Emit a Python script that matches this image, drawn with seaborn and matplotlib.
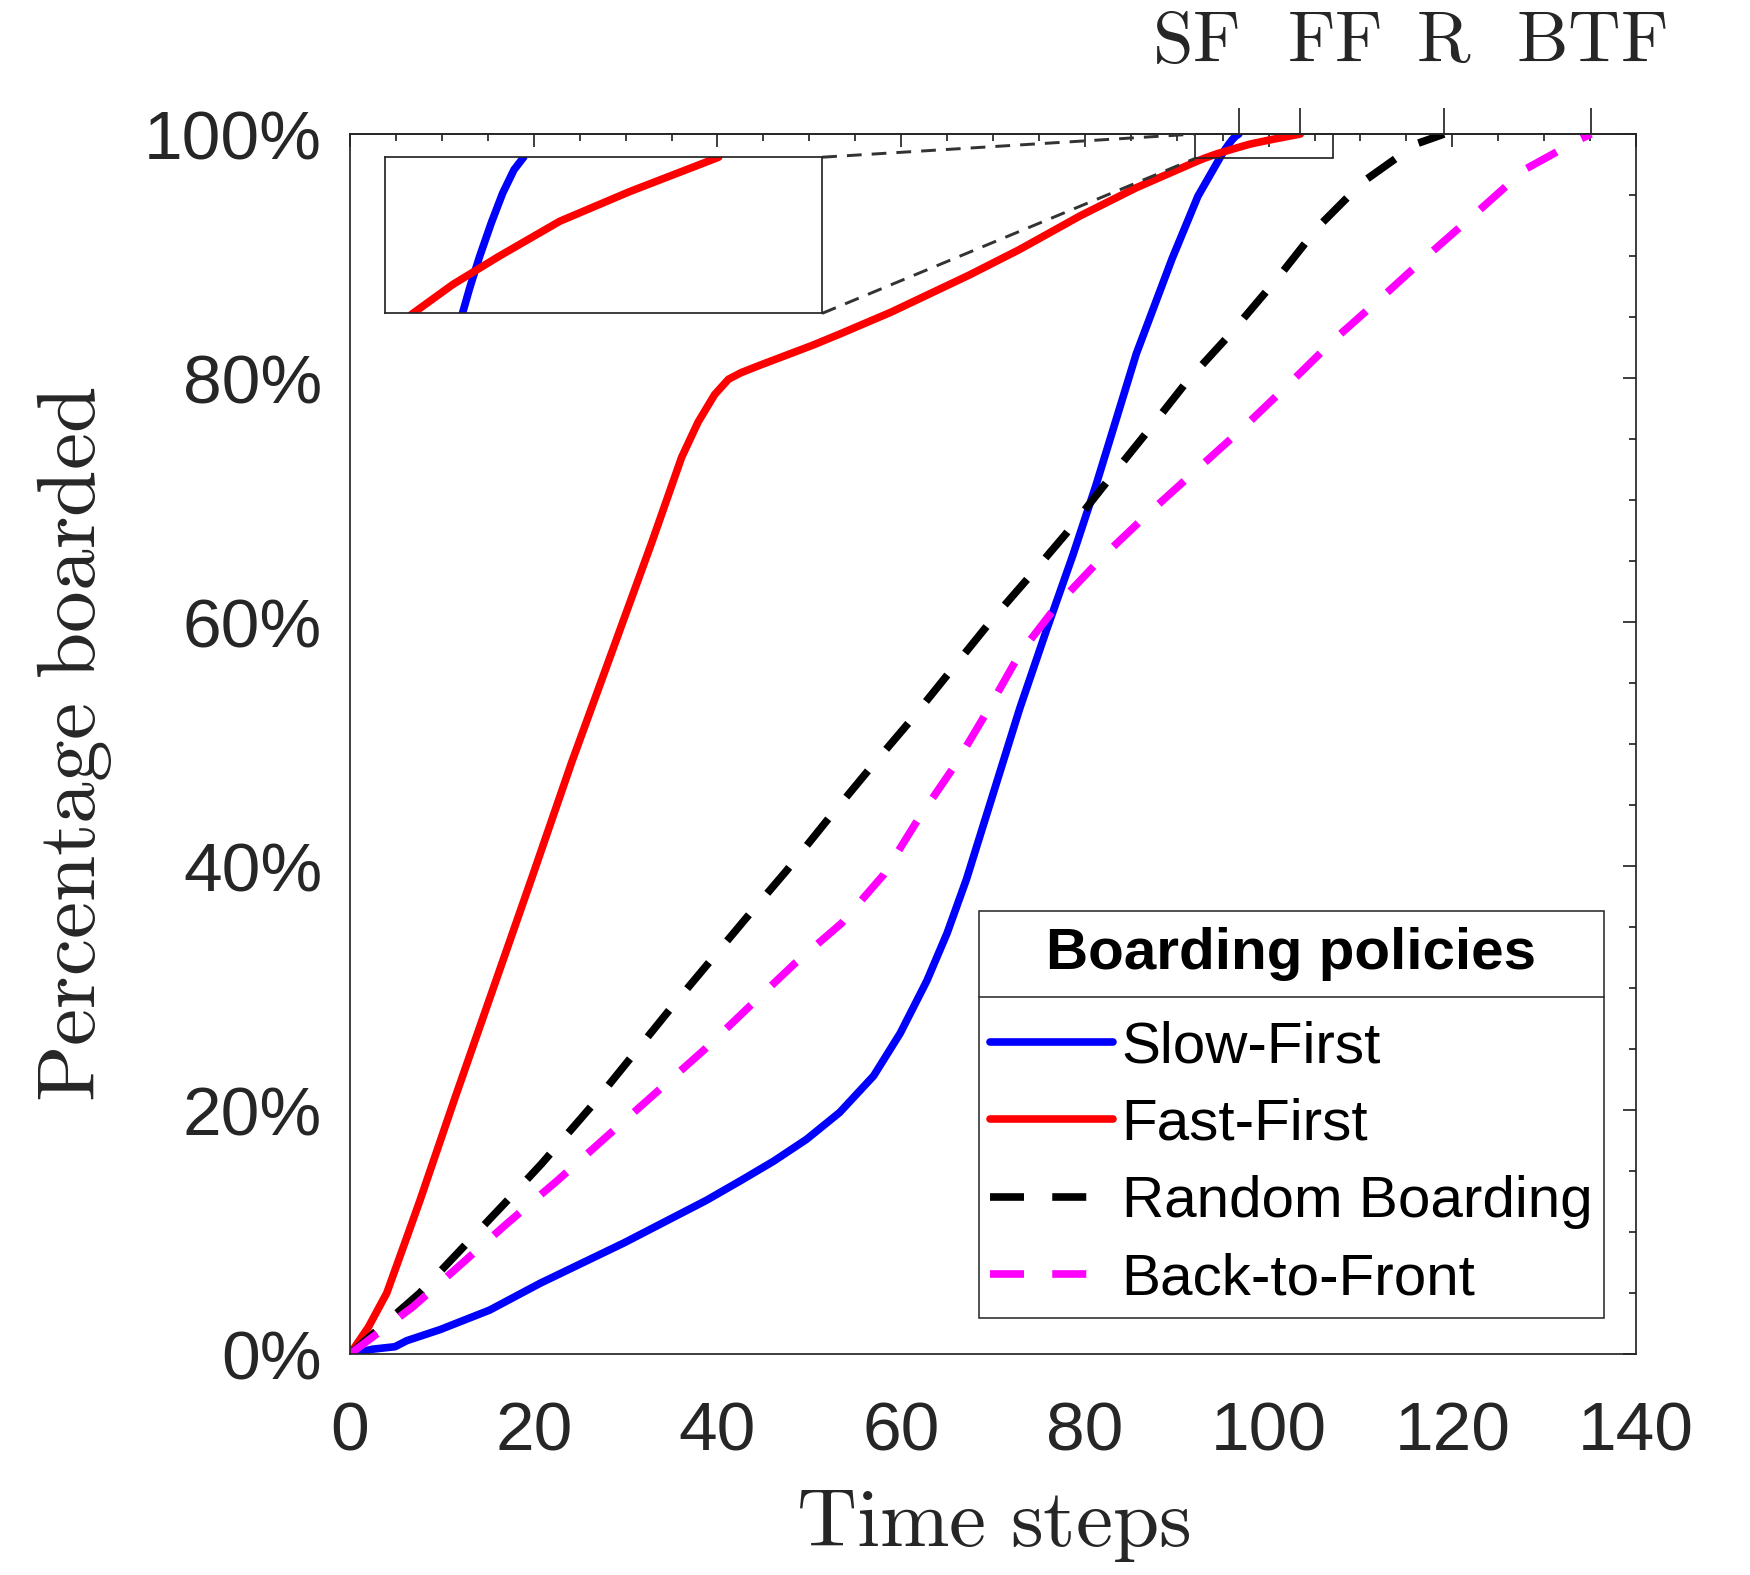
import matplotlib
matplotlib.use('Agg')
import matplotlib.pyplot as plt
import seaborn as sns
from matplotlib.patches import Rectangle
from matplotlib.lines import Line2D
from matplotlib.transforms import ScaledTranslation
from matplotlib.ticker import MultipleLocator, FuncFormatter

# ---- data (time step, % boarded) ----
sf_t = [0, 2.5, 4.9, 6.2, 9.8, 15.2, 20.7, 29.8, 38.8, 42.5, 46.1, 49.7, 53.3, 57.0,
        59.9, 62.8, 65.0, 67.1, 70.0, 72.9, 75.8, 78.7, 81.2, 85.6, 89.5, 92.3,
        94.66, 94.92, 95.25, 95.65, 96.04, 96.43, 96.76]
sf_p = [0, 0.4, 0.6, 1.1, 2.0, 3.6, 5.8, 9.1, 12.6, 14.2, 15.8, 17.6, 19.8, 22.8,
        26.3, 30.6, 34.5, 38.9, 45.9, 52.9, 59.3, 65.5, 71.2, 82.0, 89.8, 94.9,
        98.0, 98.34, 98.73, 99.16, 99.54, 99.84, 100]

ff_t = [0, 2.0, 4.0, 6.2, 7.62, 11.43, 15.42, 19.78, 24.13, 28.49, 32.84, 36.1, 37.9,
        39.7, 41.2, 42.6, 44.8, 50.4, 53.3, 58.9, 67.3, 72.8, 79.5, 85.6, 92.3,
        92.96, 94.33, 95.91, 98.0, 100.4, 103.45]
ff_p = [0, 2.2, 5.0, 9.6, 12.6, 21.0, 29.6, 39.0, 48.5, 57.5, 66.5, 73.5, 76.4,
        78.65, 79.9, 80.45, 81.1, 82.7, 83.6, 85.4, 88.4, 90.5, 93.3, 95.6, 97.8,
        98.0, 98.37, 98.73, 99.18, 99.56, 100]

rb_t = [0, 7.6, 17.4, 20.86, 26.5, 35.2, 43.2, 47.5, 52.1, 56.6, 61.0, 65.5, 69.9,
        74.4, 77.9, 82.3, 86.8, 91.2, 95.7, 101.1, 105.4, 110.3, 116.1, 119.1]
rb_p = [0, 5.0, 12.8, 15.6, 20.5, 28.6, 35.8, 39.6, 43.9, 48.0, 51.9, 56.1, 60.2,
        64.1, 67.2, 71.4, 75.6, 79.8, 83.5, 88.3, 92.4, 96.1, 99.2, 100]

btf_t = [0, 6.9, 17.1, 22.7, 27.9, 38.5, 43.5, 48.4, 53.5, 58.1, 61.9, 65.9, 69.3,
         72.9, 77.1, 82.0, 86.9, 91.9, 97.2, 102.2, 107.2, 112.3, 117.4, 122.7,
         127.9, 133.7, 135.1]
btf_p = [0, 3.9, 10.7, 14.3, 17.8, 24.9, 28.5, 32.0, 35.3, 39.3, 43.9, 48.3, 52.6,
         57.4, 61.5, 65.4, 68.9, 72.3, 75.9, 79.5, 83.2, 86.6, 90.1, 93.6, 97.1,
         99.5, 100]

policies = ['Slow-First', 'Fast-First', 'Random Boarding', 'Back-to-Front']
short_names = ['SF', 'FF', 'R', 'BTF']
series_t = [sf_t, ff_t, rb_t, btf_t]
series_p = [sf_p, ff_p, rb_p, btf_p]
colors = ['#0000FF', '#FF0000', '#000000', '#FF00FF']
dash = (0, (4.45, 3.7))
styles = ['-', '-', dash, dash]

# zoomed region and where the inset sits (data units of the main axes)
zoom_x = (92, 107)
zoom_y = (98, 100)
inset_box = [3.8, 85.3, 47.6, 12.8]

sns.set_style('white')
plt.rcParams['font.family'] = ['Liberation Sans', 'DejaVu Sans']
plt.rcParams['mathtext.fontset'] = 'cm'
gray = '#262626'

fig = plt.figure(figsize=(7, 6.3), dpi=250)
ax = fig.add_axes([0.2, 0.1403, 0.7349, 0.7746])

for name, t, p, c, ls in zip(policies, series_t, series_p, colors, styles):
    sns.lineplot(x=t, y=p, ax=ax, color=c, lw=2.2, linestyle=ls, label=name,
                 estimator=None, legend=False)

ax.set_xlim(0, 140)
ax.set_ylim(0, 100)
ax.xaxis.set_major_locator(MultipleLocator(20))
ax.xaxis.set_minor_locator(MultipleLocator(5))
ax.yaxis.set_major_locator(MultipleLocator(20))
ax.yaxis.set_minor_locator(MultipleLocator(5))
ax.yaxis.set_major_formatter(FuncFormatter(lambda v, pos: f'{v:.0f}%'))
ax.tick_params(which='both', direction='in', top=True, right=True,
               color=gray, width=0.5, labelcolor=gray)
ax.tick_params(which='major', length=3.75)
ax.tick_params(which='minor', length=2)
ax.tick_params(axis='x', labelsize=20, pad=13.5)
ax.tick_params(axis='y', labelsize=20, pad=8)
for s in ax.spines.values():
    s.set_color(gray)
    s.set_linewidth(0.5)

ax.set_xlabel(r'$\mathrm{Time\ steps}$', fontsize=24, color=gray)
ax.set_ylabel(r'$\mathrm{Percentage\ boarded}$', fontsize=24, color=gray)
ax.xaxis.label.set_va('baseline')
ax.yaxis.label.set_va('baseline')
ax.xaxis.set_label_coords(0.5, -0.157)
ax.yaxis.set_label_coords(-0.198, 0.5)

# finishing times on a top axis
end_steps = [t[-1] for t in series_t]
sec = ax.secondary_xaxis('top')
sec.set_xticks(end_steps, labels=[rf'$\mathrm{{{s}}}$' for s in short_names])
sec.tick_params(direction='out', length=7.5, width=0.5, pad=9, labelsize=21,
                color=gray, labelcolor=gray)
sec.spines['top'].set_color(gray)
sec.spines['top'].set_linewidth(0.5)
for lab, ha, dx in zip(sec.get_xticklabels(), ['right', 'left', 'center', 'center'],
                       [0, -3.7, 0, 0]):
    lab.set_ha(ha)
    lab.set_transform(lab.get_transform() + ScaledTranslation(dx / 72, 0, fig.dpi_scale_trans))

# zoom rectangle, inset and connectors
ax.add_patch(Rectangle((zoom_x[0], zoom_y[0]), zoom_x[1] - zoom_x[0],
                       zoom_y[1] - zoom_y[0], fill=False, ec=gray, lw=0.5, zorder=4))
axin = ax.inset_axes(inset_box, transform=ax.transData)
for t, p, c, ls in zip(series_t[:2], series_p[:2], colors[:2], styles[:2]):
    sns.lineplot(x=t, y=p, ax=axin, color=c, lw=2.2, linestyle=ls,
                 estimator=None, legend=False)
axin.set_xlim(zoom_x)
axin.set_ylim(zoom_y)
axin.set_xticks([])
axin.set_yticks([])
axin.set_xlabel('')
axin.set_ylabel('')
for s in axin.spines.values():
    s.set_color(gray)
    s.set_linewidth(0.5)
ix1 = inset_box[0] + inset_box[2]
iy0, iy1 = inset_box[1], inset_box[1] + inset_box[3]
conn = dict(color='#333333', lw=0.85, linestyle=(0, (5, 3.4)), zorder=4)
ax.plot([ix1, zoom_x[0]], [iy1, zoom_y[1]], **conn)
ax.plot([ix1, zoom_x[0]], [iy0, zoom_y[0]], **conn)

# legend with a boxed title on top
leg = ax.legend(loc='lower right', bbox_to_anchor=(0.975, 0.0295), borderaxespad=0,
                fontsize=16.8, handlelength=2.1, handletextpad=0.15, borderpad=0.2,
                labelspacing=0.4, frameon=False)
for txt in leg.get_texts():
    txt.set_color('black')
fig.canvas.draw()
bb = leg.get_window_extent()
(x0, y0), (x1, y1) = ax.transAxes.inverted().transform(bb.get_points())
axh = ax.get_window_extent().height
gap = 12 / axh
th = 86 / axh
ax.add_patch(Rectangle((x0, y0), x1 - x0, y1 + gap + th - y0, transform=ax.transAxes,
                       fc='white', ec=gray, lw=0.45, zorder=4.5))
ax.add_line(Line2D([x0, x1], [y1 + gap, y1 + gap], transform=ax.transAxes,
                   color=gray, lw=0.45, zorder=4.6))
ax.text((x0 + x1) / 2, y1 + gap + th / 2, 'Boarding policies', transform=ax.transAxes,
        ha='center', va='center', fontsize=16.8, fontweight='bold', color='black',
        zorder=7)

fig.savefig('out.png', dpi=250)
